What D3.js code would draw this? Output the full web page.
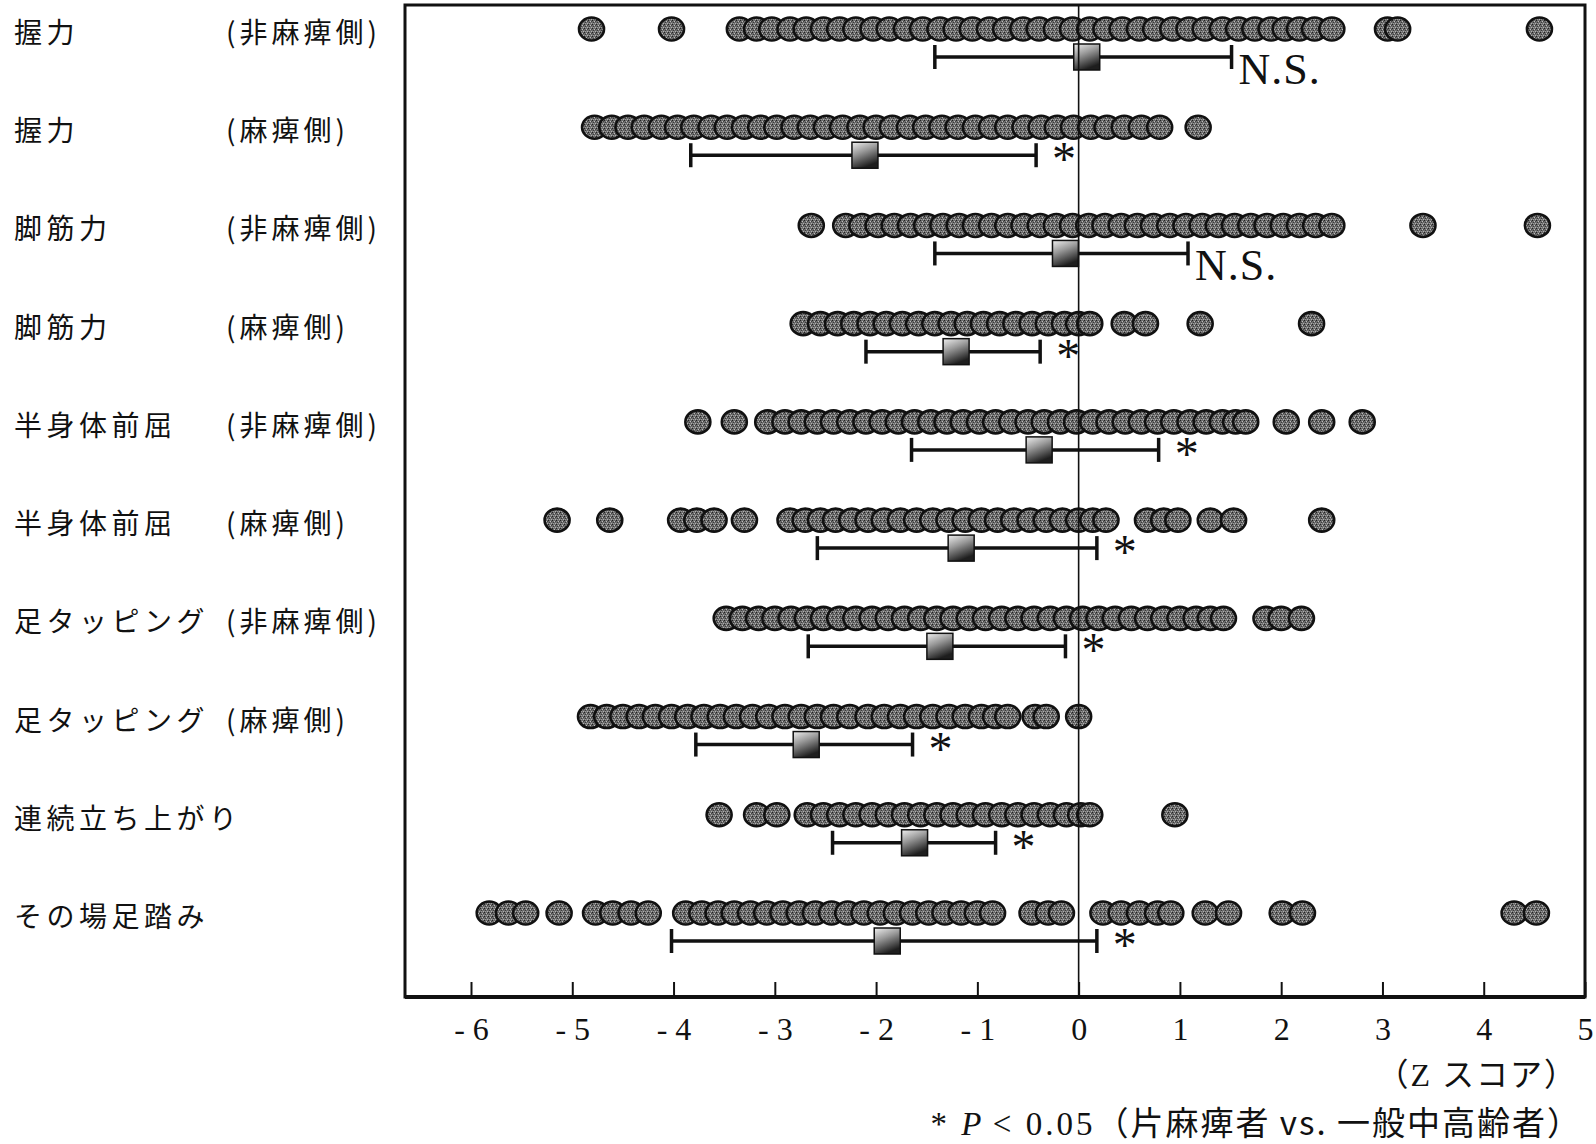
<!DOCTYPE html>
<html>
<head>
<meta charset="utf-8">
<script src="https://cdn.jsdelivr.net/npm/d3@7"></script>
<style>
  body { margin: 0; background: #fff; }
  svg { display: block; }
</style>
</head>
<body>
<script>
// row labels
var measures = ["握力", "握力", "脚筋力", "脚筋力", "半身体前屈", "半身体前屈",
                "足タッピング", "足タッピング", "連続立ち上がり", "その場足踏み"];
var sides = ["(非麻痺側)", "(麻痺側)", "(非麻痺側)", "(麻痺側)", "(非麻痺側)",
             "(麻痺側)", "(非麻痺側)", "(麻痺側)", "", ""];

// individual Z scores
var gripNon = [-4.81, -4.02, -3.35, -3.18, -3.03, -2.85, -2.69, -2.52, -2.36, -2.2, -2.03, -1.87,
  -1.7, -1.54, -1.37, -1.21, -1.05, -0.88, -0.72, -0.55, -0.39, -0.22, -0.06, 0.11, 0.27, 0.43,
  0.6, 0.76, 0.93, 1.09, 1.25, 1.42, 1.58, 1.74, 1.9, 2.04, 2.18, 2.33, 2.5, 3.05, 3.15, 4.55];
var gripPar = [-4.78, -4.61, -4.45, -4.29, -4.12, -3.96, -3.8, -3.63, -3.47, -3.3, -3.14, -2.98,
  -2.81, -2.65, -2.49, -2.33, -2.16, -2.0, -1.84, -1.67, -1.51, -1.35, -1.19, -1.02, -0.86, -0.7,
  -0.53, -0.37, -0.21, -0.05, 0.12, 0.28, 0.45, 0.62, 0.8, 1.18];
var legNon = [-2.64, -2.3, -2.14, -1.98, -1.82, -1.66, -1.5, -1.34, -1.18, -1.02, -0.86, -0.7,
  -0.54, -0.38, -0.22, -0.06, 0.1, 0.26, 0.42, 0.58, 0.74, 0.9, 1.06, 1.22, 1.38, 1.54, 1.7,
  1.86, 2.02, 2.18, 2.34, 2.5, 3.4, 4.53];
var legPar = [-2.72, -2.55, -2.38, -2.22, -2.06, -1.9, -1.74, -1.58, -1.42, -1.26, -1.1, -0.94,
  -0.78, -0.62, -0.46, -0.3, -0.14, 0.0, 0.11, 0.45, 0.66, 1.2, 2.3];
var flexNon = [-3.76, -3.4, -3.07, -2.9, -2.74, -2.58, -2.42, -2.26, -2.1, -1.94, -1.78, -1.62,
  -1.46, -1.3, -1.14, -0.98, -0.82, -0.66, -0.5, -0.34, -0.18, -0.02, 0.14, 0.3, 0.46, 0.62,
  0.78, 0.94, 1.1, 1.26, 1.42, 1.55, 1.65, 2.05, 2.4, 2.8];
var flexPar = [-5.15, -4.63, -3.93, -3.77, -3.6, -3.3, -2.85, -2.7, -2.55, -2.4, -2.24, -2.08,
  -1.92, -1.76, -1.6, -1.44, -1.28, -1.12, -0.96, -0.8, -0.64, -0.48, -0.32, -0.16, 0.0, 0.14,
  0.27, 0.68, 0.84, 0.98, 1.3, 1.53, 2.4];
var tapNon = [-3.48, -3.32, -3.16, -3.0, -2.84, -2.68, -2.52, -2.36, -2.2, -2.04, -1.88, -1.72,
  -1.56, -1.4, -1.24, -1.08, -0.92, -0.76, -0.6, -0.44, -0.28, -0.12, 0.04, 0.2, 0.36, 0.52,
  0.68, 0.84, 1.0, 1.16, 1.3, 1.43, 1.85, 2.0, 2.2];
var tapPar = [-4.82, -4.66, -4.5, -4.34, -4.18, -4.02, -3.86, -3.7, -3.54, -3.38, -3.22, -3.06,
  -2.9, -2.74, -2.58, -2.42, -2.26, -2.08, -1.92, -1.76, -1.6, -1.44, -1.28, -1.12, -0.96,
  -0.82, -0.7, -0.43, -0.32, 0.0];
var chairRise = [-3.55, -3.18, -2.98, -2.68, -2.52, -2.36, -2.2, -2.04, -1.88, -1.72, -1.56,
  -1.4, -1.24, -1.08, -0.92, -0.76, -0.6, -0.44, -0.28, -0.12, 0.02, 0.11, 0.95];
var stepping = [-5.82, -5.63, -5.46, -5.13, -4.77, -4.6, -4.42, -4.25, -3.88, -3.72, -3.56, -3.4,
  -3.24, -3.08, -2.92, -2.76, -2.6, -2.44, -2.28, -2.12, -1.96, -1.8, -1.64, -1.48, -1.32, -1.16,
  -1.0, -0.85, -0.46, -0.3, -0.17, 0.24, 0.42, 0.6, 0.78, 0.91, 1.25, 1.48, 2.01, 2.21, 4.3, 4.52];

// mean and range bars
var means  = [0.08, -2.11, -0.13, -1.21, -0.39, -1.16, -1.37, -2.69, -1.62, -1.89];
var lowers = [-1.42, -3.83, -1.42, -2.1, -1.65, -2.58, -2.67, -3.78, -2.43, -4.02];
var uppers = [1.51, -0.42, 1.08, -0.38, 0.79, 0.18, -0.13, -1.64, -0.82, 0.18];
var marks  = ["N.S.", "*", "N.S.", "*", "*", "*", "*", "*", "*", "*"];

var xTicks = [-6, -5, -4, -3, -2, -1, 0, 1, 2, 3, 4, 5];

var scores = [gripNon, gripPar, legNon, legPar, flexNon, flexPar, tapNon, tapPar, chairRise, stepping];

var width = 1596, height = 1144;
var plotLeft = 405, plotTop = 5, plotBottom = 997;
var jp = "'Noto Sans CJK JP', sans-serif";
var serif = "'Liberation Serif', 'Noto Sans CJK JP', serif";

var svg = d3.select("body").append("svg")
    .attr("width", width)
    .attr("height", height);

var defs = svg.append("defs");
// dithered grey like the printed dots
var pat = defs.append("pattern").attr("id", "dither")
    .attr("patternUnits", "userSpaceOnUse").attr("width", 4).attr("height", 4);
pat.append("rect").attr("width", 4).attr("height", 4).attr("fill", "#6c6c6c");
[[0, 0, "#222"], [2, 1, "#bdbdbd"], [1, 2, "#3a3a3a"], [3, 3, "#b0b0b0"], [3, 1, "#444"], [1, 3, "#9a9a9a"]]
  .forEach(function(p) {
    pat.append("rect").attr("x", p[0]).attr("y", p[1]).attr("width", 1).attr("height", 1).attr("fill", p[2]);
  });
var grad = defs.append("linearGradient").attr("id", "sq")
    .attr("x1", "0").attr("y1", "0").attr("x2", "0.4").attr("y2", "1");
grad.append("stop").attr("offset", "0").attr("stop-color", "#f0f0f0");
grad.append("stop").attr("offset", "0.45").attr("stop-color", "#999");
grad.append("stop").attr("offset", "1").attr("stop-color", "#1e1e1e");

var x = d3.scaleLinear().domain([-6, 5]).range([471, 1585]);
var y = d3.scalePoint().domain(d3.range(measures.length)).range([29, 913]);
var plotRight = x(5);

// dots
scores.forEach(function(vals, i) {
  svg.append("g").selectAll("ellipse")
    .data(vals)
    .enter().append("ellipse")
      .attr("cx", function(d) { return x(d); })
      .attr("cy", y(i))
      .attr("rx", 12.5)
      .attr("ry", 11.5)
      .attr("fill", "url(#dither)")
      .attr("stroke", "#111")
      .attr("stroke-width", 2.6);
});

// range bars
var bars = svg.append("g").selectAll("g")
    .data(d3.range(measures.length))
    .enter().append("g")
      .attr("transform", function(i) { return "translate(0," + (y(i) + 28) + ")"; });

bars.append("line")
    .attr("x1", function(i) { return x(lowers[i]); })
    .attr("x2", function(i) { return x(uppers[i]); })
    .attr("stroke", "#111").attr("stroke-width", 3.5);
bars.append("line")
    .attr("x1", function(i) { return x(lowers[i]); })
    .attr("x2", function(i) { return x(lowers[i]); })
    .attr("y1", -12).attr("y2", 12)
    .attr("stroke", "#111").attr("stroke-width", 3.5);
bars.append("line")
    .attr("x1", function(i) { return x(uppers[i]); })
    .attr("x2", function(i) { return x(uppers[i]); })
    .attr("y1", -12).attr("y2", 12)
    .attr("stroke", "#111").attr("stroke-width", 3.5);
bars.append("rect")
    .attr("x", function(i) { return x(means[i]) - 13; })
    .attr("y", -13)
    .attr("width", 26).attr("height", 26)
    .attr("fill", "url(#sq)")
    .attr("stroke", "#111").attr("stroke-width", 1.5);

bars.append("text")
    .attr("x", function(i) { return marks[i] === "*" ? x(uppers[i]) + 28 : x(uppers[i]) + 7; })
    .attr("y", function(i) { return marks[i] === "*" ? 20 : 27; })
    .attr("text-anchor", function(i) { return marks[i] === "*" ? "middle" : "start"; })
    .attr("font-family", serif)
    .attr("font-size", function(i) { return marks[i] === "*" ? 48 : 44; })
    .attr("letter-spacing", function(i) { return marks[i] === "*" ? 0 : 1; })
    .attr("fill", "#111")
    .text(function(i) { return marks[i]; });

// zero line
svg.append("line")
    .attr("x1", x(0)).attr("x2", x(0))
    .attr("y1", plotTop).attr("y2", plotBottom)
    .attr("stroke", "#111").attr("stroke-width", 1.6);

// frame
svg.append("rect")
    .attr("x", plotLeft).attr("y", plotTop)
    .attr("width", plotRight - plotLeft).attr("height", plotBottom - plotTop)
    .attr("fill", "none").attr("stroke", "#111").attr("stroke-width", 3);

// axis
var xAxis = d3.axisBottom(x)
    .tickValues(xTicks)
    .tickSizeInner(-15)
    .tickSizeOuter(0)
    .tickPadding(20)
    .tickFormat(function(d) { return d < 0 ? "- " + (-d) : String(d); });
var ax = svg.append("g")
    .attr("transform", "translate(0," + plotBottom + ")")
    .call(xAxis);
ax.select(".domain").remove();
svg.append("line")
    .attr("x1", plotLeft).attr("x2", plotRight)
    .attr("y1", plotBottom).attr("y2", plotBottom)
    .attr("stroke", "#111").attr("stroke-width", 4);
ax.selectAll(".tick line").attr("stroke", "#111").attr("stroke-width", 2);
ax.selectAll(".tick text")
    .attr("font-family", serif)
    .attr("font-size", 32)
    .attr("fill", "#111");

// row labels
var labels = svg.append("g").selectAll("g")
    .data(d3.range(measures.length))
    .enter().append("g");
labels.append("text")
    .attr("class", "main")
    .attr("x", 14)
    .attr("y", function(i) { return y(i) + 2; })
    .attr("dominant-baseline", "central")
    .attr("font-family", jp)
    .attr("font-size", 28)
    .attr("letter-spacing", 4.5)
    .attr("fill", "#111")
    .text(function(i) { return measures[i]; });
labels.each(function(i) {
  var g = d3.select(this);
  var w = g.select("text.main").node().getComputedTextLength();
  g.append("text")
    .attr("x", Math.max(226, 14 + w + 2))
    .attr("y", y(i) + 2)
    .attr("dominant-baseline", "central")
    .attr("font-family", jp)
    .attr("font-size", 28)
    .attr("letter-spacing", 4)
    .attr("fill", "#111")
    .text(sides[i]);
});

// axis unit and footnote
svg.append("text")
    .attr("x", 1578).attr("y", 1086)
    .attr("text-anchor", "end")
    .attr("font-family", serif)
    .attr("font-size", 32)
    .attr("letter-spacing", 2)
    .attr("fill", "#111")
    .text("（Z スコア）");

var foot = svg.append("text")
    .attr("x", 1582).attr("y", 1135)
    .attr("text-anchor", "end")
    .attr("font-family", serif)
    .attr("font-size", 33)
    .attr("fill", "#111");
foot.append("tspan").attr("letter-spacing", 3).text("* ");
foot.append("tspan").attr("font-style", "italic").text("P");
foot.append("tspan").attr("letter-spacing", 3).text(" < 0.05");
foot.append("tspan").attr("font-family", jp).attr("letter-spacing", 2).text("（片麻痺者 vs. 一般中高齢者）");
</script>
</body>
</html>
